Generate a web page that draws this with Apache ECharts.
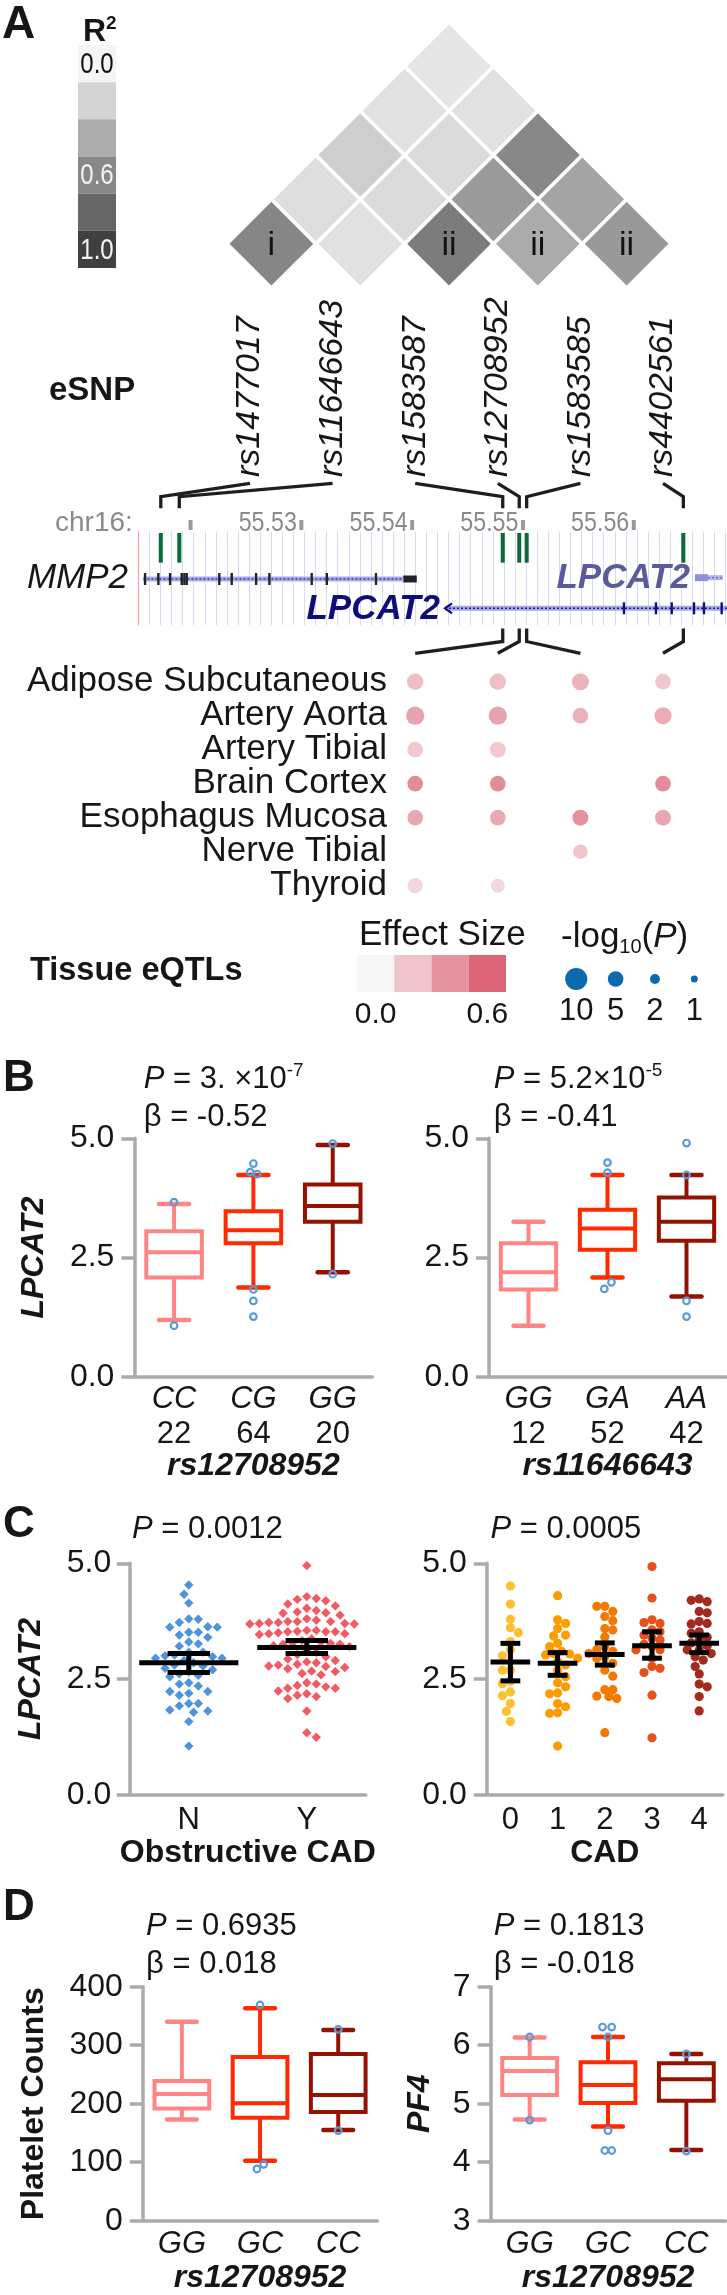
<!DOCTYPE html>
<html><head><meta charset="utf-8">
<script src="https://cdn.jsdelivr.net/npm/echarts@6/dist/echarts.min.js"></script>
<style>html,body{margin:0;padding:0;background:#fff}#c{width:727px;height:2295px}</style>
</head><body><div id="c"></div>
<script>
// ================= DATA =================
// Panel A : LD (R^2) triangle
const r2Legend = [0.0, 0.2, 0.4, 0.6, 0.8, 1.0];
const r2LegendLabels = ['0.0', '', '', '0.6', '', '1.0'];
const ldSnpA = [0,1,2,3,4, 0,1,2,3, 0,1,2, 0,1, 0];
const ldSnpB = [1,2,3,4,5, 2,3,4,5, 3,4,5, 4,5, 5];
const ldR2   = [0.61,0.12,0.67,0.41,0.51, 0.14,0.16,0.50,0.45, 0.23,0.16,0.60, 0.12,0.12, 0.10];
const ldTag  = ['i','','ii','ii','ii', '','','','', '','','', '','', ''];
// eSNPs and genome track
const snpNames = ['rs1477017','rs11646643','rs1583587','rs12708952','rs1583585','rs4402561'];
const snpPosMb = [55.51736, 55.51903, 55.54822, 55.54971, 55.55038, 55.56452];
const genomeView = [55.51533, 55.56846];
const chrTicksMb = [55.52, 55.53, 55.54, 55.55, 55.56];
const chrTickLabels = ['', '55.53', '55.54', '55.55', '55.56'];
const mmp2Span = [55.51579, 55.53925, 55.54046];
const mmp2Exons = [55.51594,55.51714,55.51820,55.51925,55.51949,55.51970,55.52264,55.52376,55.52596,55.52716,55.53098,55.53234,55.53678];
const lpcat2Span = [55.54301, 55.56846];
const lpcat2Exons = [55.55916, 55.56205, 55.56347, 55.56548, 55.56638, 55.56798];
const lpcat2AltSpan = [55.56557, 55.56674, 55.56810];
// Tissue eQTLs
const tissues = ['Adipose Subcutaneous','Artery Aorta','Artery Tibial','Brain Cortex','Esophagus Mucosa','Nerve Tibial','Thyroid'];
const eqtlSnp    = [2,3,4,5, 2,3,4,5, 2,3, 2,3,5, 2,3,4,5, 4, 2,3];
const eqtlTissue = [0,0,0,0, 1,1,1,1, 2,2, 3,3,3, 4,4,4,4, 5, 6,6];
const eqtlEffect = [0.22,0.22,0.27,0.19, 0.33,0.33,0.28,0.30, 0.18,0.18, 0.43,0.43,0.43, 0.31,0.31,0.41,0.32, 0.20, 0.12,0.12];
const eqtlLogP   = [5.5,5.5,6,5, 6.8,6.8,5,6, 5,5.2, 5,5,5, 5,5,5.2,5.2, 4.3, 4.8,4];
const effectLegend = [0.0, 0.2, 0.4, 0.6];
const effectLegendLabels = ['0.0', '', '', '0.6'];
const pLegend = [10, 5, 2, 1];
// Panel B : box plots [min, Q1, median, Q3, max]
const bGenoA = ['CC','CG','GG'];
const bCountA = [22, 64, 20];
const bBoxA = [[1.19,2.08,2.61,3.05,3.62],[1.87,2.80,3.07,3.47,4.23],[2.19,3.25,3.58,4.03,4.86]];
const bOutA = [[0,3.66,0],[0,1.07,0],[1,4.47,0],[1,4.29,-0.04],[1,4.25,0.047],[1,1.83,0],[1,1.59,0],[1,1.26,0],[2,4.89,0],[2,2.15,0]];
const bGenoB = ['GG','GA','AA'];
const bCountB = [12, 52, 42];
const bBoxB = [[1.07,1.83,2.19,2.80,3.25],[2.08,2.66,3.11,3.50,4.23],[1.68,2.85,3.25,3.76,4.23]];
const bOutB = [[1,4.49,0],[1,4.28,0],[1,1.98,0.05],[1,1.84,-0.04],[2,4.90,0],[2,4.23,0],[2,1.59,0],[2,1.26,0]];
// Panel C : individual values + mean / error bars
const cCatsA = ['N','Y'];
const cValsN = [4.53,4.33,4.14,3.80,3.79,3.72,3.63,3.62,3.62,3.51,3.51,3.45,3.40,3.30,3.26,3.21,3.08,3.08,3.02,3.00,2.98,2.95,2.95,2.90,2.85,2.80,2.78,2.73,2.70,2.65,2.61,2.58,2.55,2.42,2.39,2.35,2.23,2.23,2.19,2.15,1.97,1.97,1.92,1.83,1.81,1.78,1.58,1.05];
const cValsY = [4.95,4.28,4.24,4.22,4.19,4.12,4.08,4.03,3.98,3.95,3.93,3.92,3.88,3.80,3.77,3.74,3.74,3.74,3.72,3.72,3.70,3.70,3.69,3.69,3.55,3.55,3.53,3.52,3.52,3.52,3.50,3.48,3.48,3.46,3.37,3.33,3.30,3.28,3.27,3.25,3.25,3.22,3.20,3.10,3.07,3.03,2.98,2.93,2.90,2.87,2.85,2.82,2.80,2.77,2.72,2.67,2.62,2.59,2.66,2.75,2.78,2.42,2.39,2.33,2.30,2.24,2.30,2.36,2.18,2.15,2.12,2.08,1.81,1.34,1.24];
const cMeanA = [2.85, 3.18];
const cLoA = [2.64, 3.05];
const cHiA = [3.05, 3.33];
const cCatsB = ['0','1','2','3','4'];
const cVals0 = [4.51,4.12,3.79,3.61,3.50,3.31,3.13,3.00,2.69,2.69,2.45,2.40,2.22,2.14,1.97,1.80,1.58];
const cVals1 = [4.30,3.78,3.70,3.59,3.45,3.43,3.27,3.20,3.10,3.05,3.04,3.02,2.95,2.87,2.80,2.69,2.55,2.42,2.33,2.20,2.18,1.97,1.90,1.77,1.76,1.05];
const cVals2 = [4.07,4.07,3.96,3.85,3.76,3.59,3.56,3.41,3.20,3.13,3.10,3.05,2.98,2.95,2.84,2.69,2.56,2.27,2.27,2.13,2.12,2.08,1.34];
const cVals3 = [4.93,4.25,3.78,3.72,3.70,3.56,3.52,3.45,3.38,3.34,3.25,3.20,3.13,3.13,2.95,2.77,2.73,2.64,2.15,1.23];
const cVals4 = [4.23,4.20,4.17,3.96,3.93,3.74,3.70,3.69,3.52,3.49,3.40,3.34,3.28,3.22,3.13,3.13,3.05,2.98,2.91,2.77,2.61,2.39,2.33,2.12,1.81];
const cMeanB = [2.87, 2.84, 3.03, 3.22, 3.27];
const cLoB = [2.46, 2.58, 2.80, 2.95, 3.07];
const cHiB = [3.27, 3.07, 3.28, 3.52, 3.45];
// Panel D
const dGeno = ['GG','GC','CC'];
const dBoxPlt = [[173,192,216.6,239,340],[102.6,176,200.7,280,363],[155,186,214.8,285,326]];
const dOutPlt = [[1,368.7,0],[1,96.4,0.047],[1,88.4,-0.04],[2,327,0],[2,154,0]];
const dBoxPf4 = [[4.73,5.15,5.56,5.78,6.13],[4.61,5.01,5.32,5.71,6.14],[4.21,5.05,5.42,5.69,5.85]];
const dOutPf4 = [[0,6.14,0],[0,4.72,0],[1,6.31,-0.07],[1,6.31,0.047],[1,6.14,0],[1,4.54,0],[1,4.20,-0.04],[1,4.20,0.047],[2,5.85,0],[2,4.19,0]];

// ================= STYLE =================
const FONT = '"Liberation Sans", Arial, Helvetica, sans-serif';
const INK = '#161616';
const AX = '#ababab';
const r2LegendGray = [245, 212, 173, 136, 102, 64];
const effectStopRGB = [[246,246,246],[240,196,203],[228,147,159],[220,102,119]];
const boxColors = ['#ff8585', '#ff2a00', '#961200'];
const outColor = '#5b9ad9';
const cColorsA = ['#4d94db', '#f45a63'];
const cColorsB = ['#fdc031', '#fd9c00', '#f57800', '#e6501b', '#a32a1f'];
const COL0 = 250, COLSTEP = 82.6;

function interp(stops, vals, v) {
  if (v <= stops[0]) return vals[0];
  for (let i = 1; i < stops.length; i++) {
    if (v <= stops[i]) { const t = (v - stops[i-1]) / (stops[i] - stops[i-1]); return vals[i-1] + t * (vals[i] - vals[i-1]); }
  }
  return vals[vals.length - 1];
}
function grayFor(r) { const g = Math.round(interp(r2Legend, r2LegendGray, r)); return `rgb(${g},${g},${g})`; }
function effectColor(e) {
  const c = [0,1,2].map(k => Math.round(interp(effectLegend, effectStopRGB.map(s => s[k]), e)));
  return `rgb(${c[0]},${c[1]},${c[2]})`;
}

const grid = [], xAxis = [], yAxis = [], series = [];
function addGrid(rect, xa, ya) {
  const i = grid.length;
  grid.push(Object.assign({outerBoundsMode: 'none', containLabel: false}, rect));
  xAxis.push(Object.assign({gridIndex: i}, xa));
  yAxis.push(Object.assign({gridIndex: i}, ya));
  return i;
}
const noAxis = {axisLine: {show: false}, axisTick: {show: false}, splitLine: {show: false}};

// ---- LD triangle ----
const G_LD = addGrid({left: 227, top: 22, width: 444, height: 266},
  {type: 'value', min: 0, max: 5, show: false}, {type: 'value', min: -1, max: 5, show: false});
series.push({type: 'custom', xAxisIndex: G_LD, yAxisIndex: G_LD,
  data: ldR2.map((r, i) => [ldSnpA[i], ldSnpB[i], r]),
  renderItem(p, api) {
    const a = api.value(0), b = api.value(1), r = api.value(2);
    const cx = (a + b) / 2, row = b - a - 1;
    const pts = [[cx - 0.5, row], [cx, row + 1], [cx + 0.5, row], [cx, row - 1]].map(q => api.coord(q));
    const c = api.coord([cx, row]);
    const kids = [{type: 'polygon', shape: {points: pts}, style: {fill: grayFor(r), stroke: '#fff', lineWidth: 3.5}}];
    const tag = ldTag[p.dataIndex];
    if (tag) kids.push({type: 'text', x: c[0], y: c[1] + 2, style: {text: tag, font: `34px ${FONT}`, fill: '#111', align: 'center', verticalAlign: 'middle'}});
    return {type: 'group', children: kids};
  }});

// ---- R2 legend ----
const G_R2 = addGrid({left: 78, top: 45, width: 38, height: 223},
  {type: 'value', min: 0, max: 1, show: false},
  {type: 'category', data: r2Legend.map(String), inverse: true, show: false});
series.push({type: 'custom', xAxisIndex: G_R2, yAxisIndex: G_R2,
  data: r2Legend.map((v, i) => [0, i, v]),
  renderItem(p, api) {
    const c = api.coord([0, api.value(1)]);
    const h = api.size([0, 1])[1], w = api.size([1, 0])[0];
    const i = p.dataIndex;
    const kids = [{type: 'rect', shape: {x: c[0], y: c[1] - h / 2, width: w, height: h}, style: {fill: grayFor(api.value(2))}}];
    if (r2LegendLabels[i]) kids.push({type: 'text', x: c[0] + w / 2, y: c[1] + 1, scaleX: 0.8,
      style: {text: r2LegendLabels[i], font: `30px ${FONT}`, fill: i < 3 ? '#111' : '#f2f2f2', align: 'center', verticalAlign: 'middle'}});
    return {type: 'group', children: kids};
  }});

// ---- SNP labels (rotated axis labels) ----
const G_LAB = addGrid({left: COL0 - COLSTEP / 2, top: 480, width: COLSTEP * 6, height: 2},
  Object.assign({type: 'category', data: snpNames, position: 'top',
    axisLabel: {interval: 0, rotate: 90, margin: 3, fontSize: 34, fontStyle: 'italic', color: INK}}, noAxis),
  {type: 'value', min: 0, max: 1, show: false});

// ---- Genome track ----
const G_GEN = addGrid({left: 138.3, top: 531.7, width: 588.7, height: 93.3},
  {type: 'value', min: genomeView[0], max: genomeView[1], interval: 0.001,
    axisLine: {show: false}, axisTick: {show: false}, axisLabel: {show: false},
    splitLine: {show: true, lineStyle: {color: '#d9d9f6', width: 1}}},
  {type: 'value', min: 0, max: 93.3, inverse: true,
    axisLine: {show: true, lineStyle: {color: '#f3a5a5', width: 1.2}}, axisTick: {show: false}, axisLabel: {show: false}, splitLine: {show: false}});
series.push({type: 'custom', xAxisIndex: G_GEN, yAxisIndex: G_GEN, data: chrTicksMb.map(m => [m]),
  renderItem(p, api) {
    const t = api.coord([api.value(0), -11.7]), b = api.coord([api.value(0), -1.7]);
    const kids = [{type: 'rect', shape: {x: t[0] - 1.5, y: t[1], width: 4, height: b[1] - t[1]}, style: {fill: '#9a9a9a'}}];
    const lab = chrTickLabels[p.dataIndex];
    const m = api.coord([api.value(0), -8.7]);
    if (lab) kids.push({type: 'text', x: m[0] - 4, y: m[1], scaleX: 0.83,
      style: {text: lab, font: `28px ${FONT}`, fill: '#8a8a8a', align: 'right', verticalAlign: 'middle'}});
    return {type: 'group', children: kids};
  }});
series.push({type: 'custom', xAxisIndex: G_GEN, yAxisIndex: G_GEN, data: snpPosMb.map(m => [m]),
  renderItem(p, api) {
    const t = api.coord([api.value(0), 1.3]), b = api.coord([api.value(0), 31]);
    return {type: 'rect', shape: {x: t[0] - 2, y: t[1], width: 4, height: b[1] - t[1]}, style: {fill: '#0b6a3a'}};
  }});
function intron(a, b, base, dash) {
  return [
    {type: 'line', shape: {x1: a[0], y1: a[1], x2: b[0], y2: b[1]}, style: {stroke: base, lineWidth: 5}},
    {type: 'line', shape: {x1: a[0], y1: a[1], x2: b[0], y2: b[1]}, style: {stroke: dash, lineWidth: 1.5, lineDash: [2, 2]}}
  ];
}
// MMP2
series.push({type: 'custom', xAxisIndex: G_GEN, yAxisIndex: G_GEN, data: [mmp2Span],
  renderItem(p, api) {
    const y = 47.3;
    const a = api.coord([api.value(0), y]), b = api.coord([api.value(1), y]), e = api.coord([api.value(2), y]);
    const kids = intron(a, b, '#acacec', '#3a3ab0');
    kids.push({type: 'rect', shape: {x: b[0], y: b[1] - 3.5, width: e[0] - b[0], height: 7}, style: {fill: '#222'}});
    mmp2Exons.forEach(m => { const c = api.coord([m, y]); kids.push({type: 'line', shape: {x1: c[0], y1: c[1] - 6, x2: c[0], y2: c[1] + 6}, style: {stroke: '#222', lineWidth: 2.4}}); });
    return {type: 'group', children: kids};
  }});
// LPCAT2 (main, reverse strand)
series.push({type: 'custom', xAxisIndex: G_GEN, yAxisIndex: G_GEN, data: [lpcat2Span],
  renderItem(p, api) {
    const y = 76.6;
    const a = api.coord([api.value(0), y]), b = api.coord([api.value(1), y]);
    const kids = intron(a, b, '#a8a8e8', '#1c1c86');
    kids.push({type: 'polyline', shape: {points: [[a[0] + 7, a[1] - 5], [a[0], a[1]], [a[0] + 7, a[1] + 5]]}, style: {stroke: '#10107a', lineWidth: 2.2, fill: 'none'}});
    lpcat2Exons.forEach(m => { const c = api.coord([m, y]); kids.push({type: 'line', shape: {x1: c[0], y1: c[1] - 6, x2: c[0], y2: c[1] + 6}, style: {stroke: '#10107a', lineWidth: 2.4}}); });
    kids.push({type: 'text', x: a[0] - 5, y: a[1] + 1, style: {text: 'LPCAT2', font: `italic bold 35px ${FONT}`, fill: '#0e0e78', align: 'right', verticalAlign: 'middle'}});
    return {type: 'group', children: kids};
  }});
// LPCAT2 (alternative transcript)
series.push({type: 'custom', xAxisIndex: G_GEN, yAxisIndex: G_GEN, data: [lpcat2AltSpan],
  renderItem(p, api) {
    const y = 46;
    const a = api.coord([api.value(0), y]), b = api.coord([api.value(1), y]), e = api.coord([api.value(2), y]);
    const kids = [{type: 'rect', shape: {x: a[0], y: a[1] - 3.5, width: b[0] - a[0], height: 7}, style: {fill: '#8e8ed8'}}];
    kids.push(...intron(b, e, '#b4b4ee', '#7070cc'));
    kids.push({type: 'text', x: a[0] - 5, y: a[1] + 1, style: {text: 'LPCAT2', font: `italic bold 35px ${FONT}`, fill: '#5b5b9c', align: 'right', verticalAlign: 'middle'}});
    return {type: 'group', children: kids};
  }});

// ---- Tissue eQTL dots ----
const G_TIS = addGrid({left: 397, top: 664.7, width: 330, height: 238},
  {type: 'value', min: (397 - COL0) / COLSTEP, max: (727 - COL0) / COLSTEP, show: false},
  Object.assign({type: 'category', data: tissues, inverse: true,
    axisLabel: {interval: 0, fontSize: 35, color: INK, margin: 10}}, noAxis));
series.push({type: 'scatter', xAxisIndex: G_TIS, yAxisIndex: G_TIS,
  data: eqtlSnp.map((s, i) => [s, eqtlTissue[i], eqtlEffect[i], eqtlLogP[i]]),
  symbolSize: v => 7 * Math.sqrt(v[3]),
  itemStyle: {color: p => effectColor(p.value[2]), opacity: 1}});

// ---- Legends for eQTLs ----
const G_EFF = addGrid({left: 357, top: 955, width: 149, height: 37},
  Object.assign({type: 'category', data: effectLegend.map(String),
    axisLabel: {interval: 0, fontSize: 30, color: INK, margin: 8, formatter: (v, i) => effectLegendLabels[i]}}, noAxis),
  {type: 'value', min: 0, max: 1, show: false});
series.push({type: 'custom', xAxisIndex: G_EFF, yAxisIndex: G_EFF, data: effectLegend.map((v, i) => [i, v]),
  renderItem(p, api) {
    const t = api.coord([api.value(0), 1]), b = api.coord([api.value(0), 0]);
    const w = api.size([1, 0])[0];
    return {type: 'rect', shape: {x: t[0] - w / 2, y: t[1], width: w, height: b[1] - t[1]}, style: {fill: effectColor(api.value(1))}};
  }});
const G_PL = addGrid({left: 556.6, top: 968, width: 157.4, height: 22},
  Object.assign({type: 'category', data: pLegend.map(String),
    axisLabel: {interval: 0, fontSize: 31, color: INK, margin: 6}}, noAxis),
  {type: 'value', min: -1, max: 1, show: false});
series.push({type: 'scatter', xAxisIndex: G_PL, yAxisIndex: G_PL, data: pLegend.map((v, i) => [i, 0, v]),
  symbolSize: v => 7 * Math.sqrt(v[2]), itemStyle: {color: '#0b6aad', opacity: 1}});

// ---- helpers for the statistics panels ----
function yStat(min, max, interval, fmt, margin, name, gap, italic) {
  return {type: 'value', min, max, interval,
    axisLine: {show: true, lineStyle: {color: AX, width: 3.5}},
    axisTick: {show: true, length: 13, lineStyle: {color: AX, width: 3.5}},
    splitLine: {show: false},
    axisLabel: {fontSize: 32, color: INK, margin, formatter: fmt},
    name: name || '', nameLocation: 'middle', nameGap: gap || 0,
    nameTextStyle: {fontSize: 32, fontWeight: 'bold', fontStyle: italic ? 'italic' : 'normal', color: INK}};
}
function xStat(data, labelOpt, name, gap, italicName) {
  return {type: 'category', data,
    axisLine: {show: true, onZero: false, lineStyle: {color: AX, width: 3.5}}, axisTick: {show: false}, splitLine: {show: false},
    axisLabel: Object.assign({interval: 0, color: INK, fontSize: 31}, labelOpt),
    name, nameLocation: 'middle', nameGap: gap,
    nameTextStyle: {fontSize: 32, fontWeight: 'bold', fontStyle: italicName ? 'italic' : 'normal', color: INK}};
}
const genoRich = {g: {fontSize: 31, fontStyle: 'italic', lineHeight: 35, color: INK}, n: {fontSize: 31, lineHeight: 35, color: INK}};
function boxSeries(ax, boxes) {
  return {type: 'custom', xAxisIndex: ax, yAxisIndex: ax, z: 4, data: boxes.map((b, i) => [i].concat(b)),
    renderItem(p, api) {
      const i = api.value(0), col = boxColors[i];
      const bw = api.size([1, 0])[0];
      const pt = k => api.coord([i, api.value(k)]);
      const pmin = pt(1), pq1 = pt(2), pmed = pt(3), pq3 = pt(4), pmax = pt(5);
      const x = pmin[0], hw = bw * 0.35, cw = bw * 0.19;
      const ls = {stroke: col, lineWidth: 4};
      const cap = {stroke: col, lineWidth: 4.5, lineCap: 'round'};
      return {type: 'group', children: [
        {type: 'line', shape: {x1: x, y1: pmax[1], x2: x, y2: pq3[1]}, style: ls},
        {type: 'line', shape: {x1: x, y1: pq1[1], x2: x, y2: pmin[1]}, style: ls},
        {type: 'line', shape: {x1: x - cw, y1: pmax[1], x2: x + cw, y2: pmax[1]}, style: cap},
        {type: 'line', shape: {x1: x - cw, y1: pmin[1], x2: x + cw, y2: pmin[1]}, style: cap},
        {type: 'rect', shape: {x: x - hw, y: pq3[1], width: 2 * hw, height: pq1[1] - pq3[1]}, style: {stroke: col, lineWidth: 4, fill: '#fff'}},
        {type: 'line', shape: {x1: x - hw, y1: pmed[1], x2: x + hw, y2: pmed[1]}, style: ls}
      ]};
    }};
}
function outlierSeries(ax, outs) {
  return {type: 'custom', xAxisIndex: ax, yAxisIndex: ax, z: 6, data: outs.map(o => [o[0], o[1], o[2]]),
    renderItem(p, api) {
      const bw = api.size([1, 0])[0];
      const c = api.coord([api.value(0), api.value(1)]);
      return {type: 'circle', shape: {cx: c[0] + api.value(2) * bw, cy: c[1], r: 3.3}, style: {stroke: outColor, lineWidth: 2.2, fill: 'none'}};
    }};
}
function beeswarm(data, yPix, d) {
  const offs = new Array(data.length).fill(0);
  const groups = {};
  data.forEach((q, i) => { (groups[q[0]] = groups[q[0]] || []).push(i); });
  Object.keys(groups).forEach(g => {
    const idx = groups[g].slice().sort((a, b) => data[b][1] - data[a][1]);
    const placed = [];
    idx.forEach((i, n) => {
      const y = yPix(data[i]);
      const sgn = n % 2 ? -1 : 1;
      let best = 0;
      for (let k = 0; k < 120; k++) {
        const off = k === 0 ? 0 : sgn * (k % 2 ? 1 : -1) * Math.ceil(k / 2) * d / 2;
        if (placed.every(q => Math.abs(q[1] - y) >= d || (q[0] - off) * (q[0] - off) + (q[1] - y) * (q[1] - y) >= d * d)) { best = off; break; }
      }
      placed.push([best, y]);
      offs[i] = best;
    });
  });
  return offs;
}
function swarmSeries(ax, groups, colors, shape, d, r) {
  const data = [];
  groups.forEach((vals, g) => vals.forEach(v => data.push([g, v])));
  let offs = null;
  return {type: 'custom', xAxisIndex: ax, yAxisIndex: ax, z: 3, data,
    renderItem(p, api) {
      if (!offs) offs = beeswarm(data, q => api.coord(q)[1], d);
      const c = api.coord([api.value(0), api.value(1)]);
      const x = c[0] + offs[p.dataIndex], y = c[1];
      const fill = colors[api.value(0)];
      if (shape === 'diamond') return {type: 'polygon', shape: {points: [[x, y - r], [x + r, y], [x, y + r], [x - r, y]]}, style: {fill}};
      return {type: 'circle', shape: {cx: x, cy: y, r}, style: {fill}};
    }};
}
function meanSeries(ax, means, los, his, capHalf) {
  return {type: 'custom', xAxisIndex: ax, yAxisIndex: ax, z: 5, data: means.map((m, i) => [i, m, los[i], his[i]]),
    renderItem(p, api) {
      const bw = api.size([1, 0])[0];
      const i = api.value(0);
      const cm = api.coord([i, api.value(1)]), cl = api.coord([i, api.value(2)]), ch = api.coord([i, api.value(3)]);
      const x = cm[0], hm = bw * 0.42, hc = bw * capHalf;
      const st = {stroke: '#000', lineWidth: 5};
      return {type: 'group', children: [
        {type: 'line', shape: {x1: x - hm, y1: cm[1], x2: x + hm, y2: cm[1]}, style: st},
        {type: 'line', shape: {x1: x, y1: cl[1], x2: x, y2: ch[1]}, style: st},
        {type: 'line', shape: {x1: x - hc, y1: cl[1], x2: x + hc, y2: cl[1]}, style: st},
        {type: 'line', shape: {x1: x - hc, y1: ch[1], x2: x + hc, y2: ch[1]}, style: st}
      ]};
    }};
}
const f1 = v => v.toFixed(1);
const fInt = v => String(v);

// ---- Panel B ----
const G_B1 = addGrid({left: 134.4, top: 1138.3, width: 238, height: 238.4},
  xStat(bGenoA, {margin: 5, rich: genoRich, formatter: (v, i) => `{g|${v}}\n{n|${bCountA[i]}}`}, 'rs12708952', 73.5, true),
  yStat(0, 5, 2.5, f1, 20, 'LPCAT2', 84, true));
series.push(boxSeries(G_B1, bBoxA), outlierSeries(G_B1, bOutA));
const G_B2 = addGrid({left: 489, top: 1138.3, width: 237, height: 238.4},
  xStat(bGenoB, {margin: 5, rich: genoRich, formatter: (v, i) => `{g|${v}}\n{n|${bCountB[i]}}`}, 'rs11646643', 73.5, true),
  yStat(0, 5, 2.5, f1, 20));
series.push(boxSeries(G_B2, bBoxB), outlierSeries(G_B2, bOutB));

// ---- Panel C ----
const G_C1 = addGrid({left: 129.8, top: 1563.3, width: 236, height: 231.4},
  xStat(cCatsA, {margin: 10}, 'Obstructive CAD', 42.8, false),
  yStat(0, 5, 2.5, f1, 18.5, 'LPCAT2', 82.5, true));
series.push(swarmSeries(G_C1, [cValsN, cValsY], cColorsA, 'diamond', 9.5, 4.7), meanSeries(G_C1, cMeanA, cLoA, cHiA, 0.18));
const G_C2 = addGrid({left: 486.8, top: 1563.3, width: 236, height: 231.4},
  xStat(cCatsB, {margin: 10}, 'CAD', 42.8, false),
  yStat(0, 5, 2.5, f1, 20));
series.push(swarmSeries(G_C2, [cVals0, cVals1, cVals2, cVals3, cVals4], cColorsB, 'circle', 8, 4.6), meanSeries(G_C2, cMeanB, cLoB, cHiB, 0.21));

// ---- Panel D ----
const G_D1 = addGrid({left: 142.8, top: 1986.7, width: 234.5, height: 234},
  xStat(dGeno, {margin: 6, rich: genoRich, formatter: v => `{g|${v}}`}, 'rs12708952', 41, true),
  yStat(0, 400, 100, fInt, 20, 'Platelet Counts', 93, false));
series.push(boxSeries(G_D1, dBoxPlt), outlierSeries(G_D1, dOutPlt));
const G_D2 = addGrid({left: 490.5, top: 1986.7, width: 235, height: 234},
  xStat(dGeno, {margin: 6, rich: genoRich, formatter: v => `{g|${v}}`}, 'rs12708952', 41, true),
  yStat(3, 7, 1, fInt, 20, 'PF4', 54, true));
series.push(boxSeries(G_D2, dBoxPf4), outlierSeries(G_D2, dOutPf4));

// ---- free text ----
function txt(x, y, text, font, extra) {
  return {type: 'text', x, y, z: 50, style: Object.assign({text, font, fill: INK, align: 'left', verticalAlign: 'middle'}, extra || {})};
}
const statRich = {
  i: {fontSize: 31, fontStyle: 'italic', lineHeight: 36, fontFamily: FONT, fill: INK},
  t: {fontSize: 31, lineHeight: 36, fontFamily: FONT, fill: INK},
  s: {fontSize: 19, lineHeight: 20, verticalAlign: 'top', fontFamily: FONT, fill: INK}
};
function stat(x, y, str) { return txt(x, y, str, `31px ${FONT}`, {rich: statRich}); }
const graphics = [
  txt(2, 25, 'A', `bold 46px ${FONT}`),
  txt(83, 32, '{r|R}{s|2}', `bold 32px ${FONT}`, {rich: {r: {fontSize: 32, fontWeight: 'bold', lineHeight: 36, fontFamily: FONT, fill: INK}, s: {fontSize: 19, fontWeight: 'bold', lineHeight: 20, verticalAlign: 'top', fontFamily: FONT, fill: INK}}}),
  txt(49, 390.5, 'eSNP', `bold 33px ${FONT}`),
  txt(55, 523, 'chr16:', `28px ${FONT}`, {fill: '#8a8a8a'}),
  txt(128, 578.5, 'MMP2', `italic 35px ${FONT}`, {align: 'right'}),
  txt(30, 971, 'Tissue eQTLs', `bold 32.5px ${FONT}`),
  txt(359, 935, 'Effect Size', `35px ${FONT}`),
  txt(561, 937, '{t|-log}{b|10}{t|(}{i|P}{t|)}', `35px ${FONT}`, {rich: {
    t: {fontSize: 35, lineHeight: 40, fontFamily: FONT, fill: INK},
    i: {fontSize: 35, fontStyle: 'italic', lineHeight: 40, fontFamily: FONT, fill: INK},
    b: {fontSize: 20, lineHeight: 22, verticalAlign: 'bottom', fontFamily: FONT, fill: INK}}}),
  txt(3, 1079, 'B', `bold 44px ${FONT}`),
  stat(143.7, 1079, '{i|P}{t| = 3. ×10}{s|-7}'),
  stat(143.7, 1117, '{t|β = -0.52}'),
  stat(493.7, 1079, '{i|P}{t| = 5.2×10}{s|-5}'),
  stat(493.7, 1117, '{t|β = -0.41}'),
  txt(3, 1525, 'C', `bold 44px ${FONT}`),
  stat(132, 1529, '{i|P}{t| = 0.0012}'),
  stat(490.5, 1529, '{i|P}{t| = 0.0005}'),
  txt(3, 1908, 'D', `bold 44px ${FONT}`),
  stat(146, 1926, '{i|P}{t| = 0.6935}'),
  stat(146, 1964, '{t|β = 0.018}'),
  stat(493.7, 1926, '{i|P}{t| = 0.1813}'),
  stat(493.7, 1964, '{t|β = -0.018}')
];

const chart = echarts.init(document.getElementById('c'), null, {renderer: 'canvas'});
chart.setOption({
  animation: false,
  backgroundColor: '#ffffff',
  textStyle: {fontFamily: FONT},
  grid, xAxis, yAxis, series,
  graphic: graphics
});

// ---- connectors between label axis, genome axis and tissue columns (via library conversions) ----
const conn = [];
const tissueCols = Array.from(new Set(eqtlSnp));
snpNames.forEach((n, k) => {
  const lx = chart.convertToPixel({xAxisIndex: G_LAB}, k);
  const gx = chart.convertToPixel({xAxisIndex: G_GEN}, snpPosMb[k]);
  conn.push({type: 'polyline', z: 40, shape: {points: [[lx, 483.3], [gx, 496.7], [gx, 508.3]]}, style: {stroke: '#1e1e1e', lineWidth: 3.3, fill: 'none'}});
  if (tissueCols.indexOf(k) >= 0) {
    const tx = chart.convertToPixel({xAxisIndex: G_TIS}, k);
    conn.push({type: 'polyline', z: 40, shape: {points: [[gx, 628.5], [gx, 641.5], [tx, 653.3]]}, style: {stroke: '#1e1e1e', lineWidth: 3.3, fill: 'none'}});
  }
});
chart.setOption({graphic: graphics.concat(conn)});
</script>
</body></html>
